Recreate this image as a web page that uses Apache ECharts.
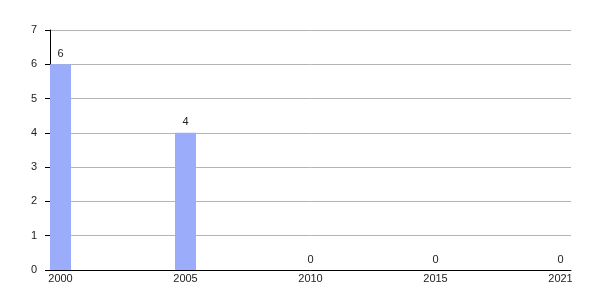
<!DOCTYPE html>
<html>
<head>
<meta charset="utf-8">
<script src="https://cdn.jsdelivr.net/npm/echarts@6/dist/echarts.min.js"></script>
<style>
html,body{margin:0;padding:0;background:#fff;}
#chart{width:600px;height:300px;}
</style>
</head>
<body>
<div id="chart"></div>
<script>
const years = ['2000', '2005', '2010', '2015', '2021'];
const counts = [6, 4, 0, 0, 0];
const yTicks = [0, 1, 2, 3, 4, 5, 6, 7];

const chart = echarts.init(document.getElementById('chart'), null, {renderer: 'canvas'});
const font = 'Liberation Sans, Arial, sans-serif';
chart.setOption({
  animation: false,
  grid: {left: 50, right: 29, top: 30, bottom: 30, containLabel: false},
  xAxis: {
    type: 'value',
    min: -0.084,
    max: years.length - 1 + 0.084,
    axisLine: {show: true, onZero: false, lineStyle: {color: '#000', width: 1}},
    axisTick: {show: false},
    splitLine: {show: false},
    axisLabel: {
      customValues: years.map((y, i) => i),
      formatter: v => years[Math.round(v)],
      color: '#222', fontSize: 11, fontFamily: font, margin: 3
    }
  },
  yAxis: {
    type: 'value',
    min: yTicks[0],
    max: yTicks[yTicks.length - 1],
    interval: 1,
    axisLine: {show: true, onZero: false, lineStyle: {color: '#000', width: 1}},
    axisTick: {show: true, length: 5, lineStyle: {color: '#000'}},
    splitLine: {show: true, lineStyle: {color: '#b4b4b4', width: 1}},
    axisLabel: {color: '#222', fontSize: 11, fontFamily: font, margin: 13}
  },
  series: [{
    type: 'bar',
    data: years.map((y, i) => [i, counts[i]]),
    barWidth: 21,
    itemStyle: {color: '#9badfa'},
    label: {show: true, position: 'top', distance: 5, color: '#222', fontSize: 11, fontFamily: font}
  }]
});
</script>
</body>
</html>
